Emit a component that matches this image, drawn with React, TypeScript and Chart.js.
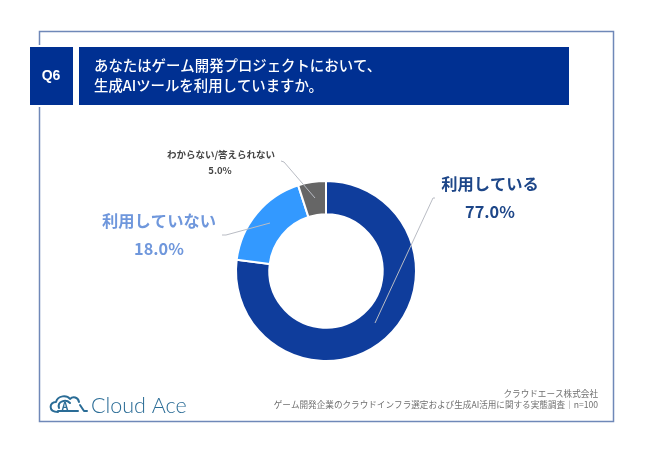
import React, { useEffect, useRef } from "react";
import { Chart, registerables } from "chart.js";

Chart.register(...registerables);

const categories = ["利用している", "利用していない", "わからない/答えられない"];
const values = [77, 18, 5];
const sliceColors = ["#0f3d9c", "#3399ff", "#666666"];
const labelColors = ["#1d4688", "#6f97dc", "#444444"];
const questionId = "Q6";
const titleLines = ["あなたはゲーム開発プロジェクトにおいて、", "生成AIツールを利用していますか。"];
const footerLines = ["クラウドエース株式会社", "ゲーム開発企業のクラウドインフラ選定および生成AI活用に関する実態調査｜n=100"];
const brandName = "Cloud Ace";

const FONT = '"Noto Sans CJK JP", "Noto Sans", sans-serif';
const NAVY = "#003092";

const decorations = {
  id: "decorations",
  beforeDraw(chart: any) {
    const c = chart.ctx;
    c.save();
    c.fillStyle = "#ffffff";
    c.fillRect(0, 0, 650, 450);
    c.strokeStyle = "#6f88b8";
    c.lineWidth = 1.5;
    c.strokeRect(39.5, 31.5, 574, 390);
    c.fillStyle = "#ffffff";
    c.fillRect(28, 45, 545, 62);
    c.fillStyle = NAVY;
    c.fillRect(30, 47, 43, 58);
    c.fillRect(79, 47, 490, 58);

    c.textBaseline = "middle";
    c.fillStyle = "#ffffff";
    c.textAlign = "center";
    c.font = `bold 14px Arimo, "Liberation Sans", ${FONT}`;
    c.fillText(questionId, 51, 76.5);
    c.textAlign = "left";
    c.font = `500 14.4px ${FONT}`;
    c.fillText(titleLines[0], 94, 66);
    c.fillText(titleLines[1], 94, 86);

    c.textAlign = "right";
    c.fillStyle = "#707070";
    c.font = `400 8.6px ${FONT}`;
    c.fillText(footerLines[0], 598, 394);
    c.fillText(footerLines[1], 598, 405);

    // logo
    c.strokeStyle = "#2a6c96";
    c.lineWidth = 2;
    c.lineJoin = "round";
    c.lineCap = "round";
    c.beginPath();
    c.moveTo(58, 412);
    c.bezierCurveTo(48, 412, 49, 402, 56, 402);
    c.bezierCurveTo(58, 395, 67, 395, 70, 399);
    c.bezierCurveTo(73, 396, 78, 397, 79, 402);
    c.moveTo(80, 405);
    c.lineTo(84, 411);
    c.lineTo(87, 411);
    c.moveTo(78, 411);
    c.lineTo(58, 411);
    c.moveTo(59, 408);
    c.bezierCurveTo(57, 401, 66, 399, 70, 403);
    c.stroke();
    c.fillStyle = "#2a6c96";
    c.textAlign = "center";
    c.font = `bold 10px ${FONT}`;
    c.fillText("A", 65, 406);
    c.textAlign = "left";
    c.font = `300 21.5px Lato, ${FONT}`;
    c.fillText(brandName, 91, 406.5);
    c.restore();
  },
  afterDatasetsDraw(chart: any) {
    const c = chart.ctx;
    c.save();
    c.strokeStyle = "#b9bcc4";
    c.lineWidth = 1;
    const paths = [
      [[375, 323], [433, 198], [435, 198]],
      [[270, 223], [226, 235], [222, 235]],
      [[315, 198], [284, 162], [281, 161]],
    ];
    paths.forEach((p) => {
      c.beginPath();
      p.forEach(([x, y], i) => (i ? c.lineTo(x, y) : c.moveTo(x, y)));
      c.stroke();
    });

    c.textAlign = "center";
    c.textBaseline = "middle";
    const pct = (v: number) => `${v.toFixed(1)}%`;
    c.fillStyle = labelColors[0];
    c.font = `bold 16.3px ${FONT}`;
    c.fillText(categories[0], 490, 184);
    c.fillText(pct(values[0]), 490, 212);
    c.fillStyle = labelColors[1];
    c.fillText(categories[1], 159, 221);
    c.fillText(pct(values[1]), 159, 249);
    c.fillStyle = labelColors[2];
    c.font = `bold 9.5px ${FONT}`;
    c.fillText(categories[2], 221, 154);
    c.fillText(pct(values[2]), 220, 170);
    c.restore();
  },
};

export default function App() {
  const ref = useRef<HTMLCanvasElement>(null);
  useEffect(() => {
    const chart = new Chart(ref.current!, {
      type: "doughnut",
      data: {
        labels: categories,
        datasets: [{ data: values, backgroundColor: sliceColors, borderColor: "#ffffff", borderWidth: 2 }],
      },
      options: {
        animation: false,
        responsive: false,
        cutout: "63%",
        layout: { padding: { left: 235, right: 233, top: 180, bottom: 88 } },
        plugins: { legend: { display: false }, tooltip: { enabled: false }, title: { display: false } },
      },
      plugins: [decorations],
    } as any);
    return () => chart.destroy();
  }, []);
  return (
    <canvas
      ref={ref}
      width={650}
      height={450}
      style={{ position: "absolute", left: 0, top: 0, width: 650, height: 450 }}
    />
  );
}
